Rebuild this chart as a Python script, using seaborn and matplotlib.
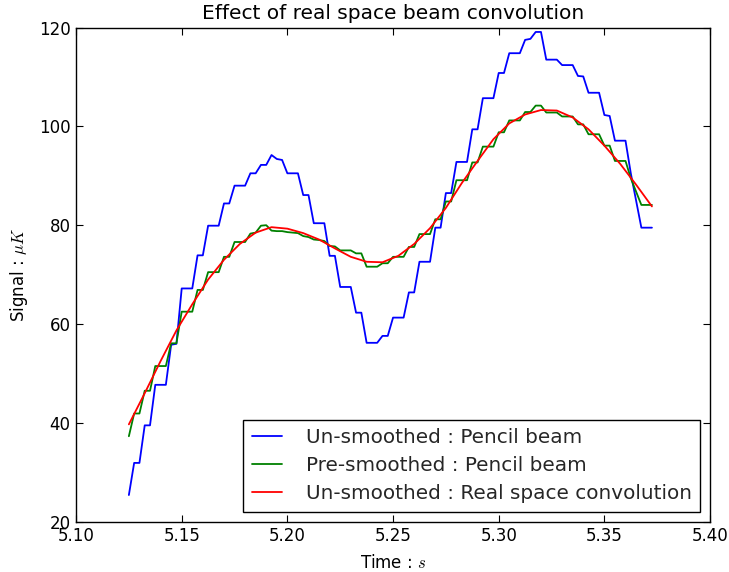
import numpy as np
import matplotlib
matplotlib.use("Agg")
import matplotlib.pyplot as plt
import seaborn as sns
from matplotlib.ticker import FormatStrFormatter

# ---- data ----
t_start = 5.125
dt = 0.0025
n_samples = 100
time = t_start + dt * np.arange(n_samples)

unsmoothed_pencil = [
    25.4, 31.9, 31.9, 39.5, 39.5, 47.7, 47.7, 47.7, 55.8, 56.0,
    67.2, 67.2, 67.2, 73.9, 73.9, 79.9, 79.9, 79.9, 84.4, 84.4,
    88.0, 88.0, 88.0, 90.5, 90.5, 92.2, 92.2, 94.2, 93.4, 93.2,
    90.5, 90.5, 90.5, 86.1, 86.1, 80.4, 80.4, 80.4, 73.8, 73.8,
    67.5, 67.5, 67.5, 62.3, 62.3, 56.2, 56.2, 56.2, 57.6, 57.6,
    61.3, 61.3, 61.3, 66.4, 66.4, 72.6, 72.6, 72.6, 79.5, 79.5,
    86.5, 86.5, 92.8, 92.8, 92.8, 99.4, 99.4, 105.7, 105.7, 105.7,
    110.8, 110.8, 114.8, 114.8, 114.8, 117.5, 117.7, 119.1, 119.1, 113.5,
    113.5, 113.5, 112.4, 112.4, 112.4, 110.2, 110.1, 106.8, 106.8, 106.8,
    102.3, 102.1, 97.1, 97.1, 97.1, 90.5, 85.0, 79.5, 79.5, 79.5,
]

presmoothed_pencil = [
    37.3, 41.9, 41.9, 46.5, 46.5, 51.5, 51.5, 51.5, 56.1, 56.1,
    62.5, 62.5, 62.5, 66.9, 66.9, 70.5, 70.5, 70.5, 73.6, 73.6,
    76.6, 76.6, 76.6, 78.3, 78.5, 79.9, 80.0, 78.9, 78.8, 78.8,
    78.6, 78.5, 78.4, 77.8, 77.6, 77.1, 77.0, 76.8, 75.8, 75.7,
    74.9, 74.9, 74.9, 74.3, 74.3, 71.6, 71.6, 71.6, 72.3, 72.3,
    73.6, 73.6, 73.6, 75.6, 75.6, 78.2, 78.2, 78.2, 81.2, 81.2,
    84.8, 84.8, 89.1, 89.1, 89.1, 92.7, 92.7, 95.9, 95.9, 95.9,
    98.8, 98.8, 101.2, 101.2, 101.2, 102.9, 102.9, 104.2, 104.2, 102.8,
    102.8, 102.8, 102.0, 102.0, 102.0, 100.4, 100.4, 98.4, 98.4, 98.4,
    96.1, 96.1, 93.0, 93.0, 93.0, 89.5, 86.8, 84.1, 84.1, 84.1,
]

conv_time = [
    5.1250, 5.1325, 5.1400, 5.1475, 5.1550, 5.1625, 5.1700, 5.1775,
    5.1850, 5.1925, 5.2000, 5.2075, 5.2150, 5.2225, 5.2300, 5.2375,
    5.2450, 5.2525, 5.2600, 5.2675, 5.2750, 5.2825, 5.2900, 5.2975,
    5.3050, 5.3125, 5.3200, 5.3275, 5.3350, 5.3425, 5.3500, 5.3575,
    5.3650, 5.3725,
]
unsmoothed_conv = [
    39.7, 46.0, 52.5, 58.7, 64.0, 69.0, 73.0, 76.2,
    78.5, 79.6, 79.3, 78.4, 77.1, 75.3, 73.6, 72.6,
    72.5, 73.8, 76.2, 79.4, 83.5, 88.5, 93.0, 97.4,
    100.6, 102.4, 103.3, 103.2, 101.8, 99.4, 96.1, 92.4,
    88.2, 83.8,
]

labels = [
    "Un-smoothed : Pencil beam",
    "Pre-smoothed : Pencil beam",
    "Un-smoothed : Real space convolution",
]
x_ticks = [5.10, 5.15, 5.20, 5.25, 5.30, 5.35, 5.40]
y_ticks = [20, 40, 60, 80, 100, 120]

# ---- style ----
sns.set_theme(style="ticks")
plt.rcParams["font.family"] = ["DejaVu Sans"]
plt.rcParams["mathtext.fontset"] = "cm"
plt.rcParams["xtick.direction"] = "in"
plt.rcParams["ytick.direction"] = "in"

fig = plt.figure(figsize=(7.29, 5.72), dpi=100, facecolor="white")
ax = fig.add_axes([0.1043, 0.0879, 0.8697, 0.864])

sns.lineplot(x=time, y=unsmoothed_pencil, color="#0000ff", lw=1.3, label=labels[0], ax=ax)
sns.lineplot(x=time, y=presmoothed_pencil, color="#008000", lw=1.3, label=labels[1], ax=ax)
sns.lineplot(x=conv_time, y=unsmoothed_conv, color="#ff0000", lw=1.3, label=labels[2], ax=ax)

ax.set_xlim(5.10, 5.40)
ax.set_ylim(20, 120)
ax.set_xticks(x_ticks)
ax.set_yticks(y_ticks)
ax.xaxis.set_major_formatter(FormatStrFormatter("%.2f"))
ax.tick_params(axis="both", which="major", direction="in", length=5, width=0.8,
               labelsize=12, colors="black", top=True, right=True, pad=4)
for s in ax.spines.values():
    s.set_visible(True)
    s.set_color("black")
    s.set_linewidth(1.0)

ax.set_title("Effect of real space beam convolution", fontsize=14.5, color="black", pad=6)
ax.set_xlabel("Time : $s$", fontsize=12, color="black", labelpad=6)
ax.set_ylabel("Signal : $\\mu K$", fontsize=12, color="black", labelpad=6)

leg = ax.legend(loc="lower right", fontsize=14.4, frameon=True, fancybox=False,
                edgecolor="black", framealpha=1.0, handlelength=1.5,
                handletextpad=1.2, borderpad=0.42,
                borderaxespad=0.5, labelspacing=0.45)
leg.get_frame().set_linewidth(1.0)

fig.savefig("out.png", dpi=100, facecolor="white")
